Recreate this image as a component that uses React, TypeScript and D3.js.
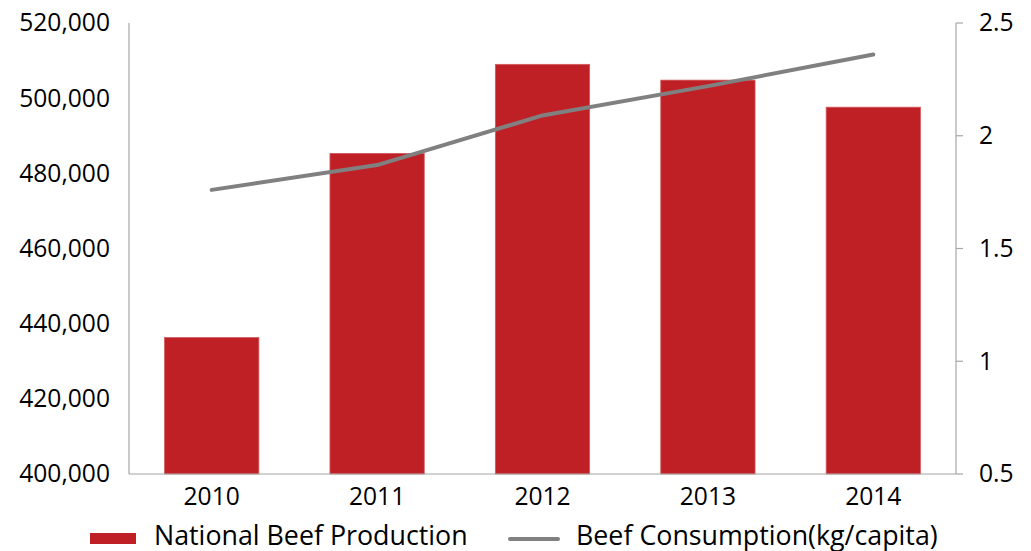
import React from "react";
import * as d3 from "d3";

const years = ["2010", "2011", "2012", "2013", "2014"];
const production = [436300, 485300, 509000, 504800, 497600];
const consumption = [1.76, 1.87, 2.09, 2.22, 2.36];
const leftTicks = [400000, 420000, 440000, 460000, 480000, 500000, 520000];
const rightTicks = [0.5, 1, 1.5, 2, 2.5];
const seriesNames = ["National Beef Production", "Beef Consumption(kg/capita)"];

const W = 1031;
const H = 551;
const M = { left: 129, right: 956, top: 23, bottom: 474 };
const FONT = "'Open Sans', sans-serif";
const RED = "#BF2026";
const GRAY = "#808080";
const AXIS = "#A6A6A6";

export default function App() {
  const x = d3.scaleBand<string>().domain(years).range([M.left, M.right]).paddingInner(0.43).paddingOuter(0.215);
  const yL = d3.scaleLinear().domain([400000, 520000]).range([M.bottom, M.top]);
  const yR = d3.scaleLinear().domain([0.5, 2.5]).range([M.bottom, M.top]);
  const fmt = d3.format(",");
  const cx = (y: string) => (x(y) ?? 0) + x.bandwidth() / 2;
  const line = d3
    .line<number>()
    .x((_, i) => cx(years[i]))
    .y((d) => yR(d));

  return (
    <svg
      width={W}
      height={H}
      style={{ position: "absolute", left: 0, top: 0, background: "#fff" }}
      fontFamily={FONT}
    >
      {production.map((v, i) => (
        <rect
          key={years[i]}
          x={x(years[i])}
          y={yL(v)}
          width={x.bandwidth()}
          height={yL(400000) - yL(v)}
          fill={RED}
          stroke="#D2595D"
          strokeWidth={0.8}
        />
      ))}
      {/* left axis */}
      <line x1={M.left} x2={M.left} y1={M.top} y2={M.bottom} stroke={AXIS} strokeWidth={1.2} />
      {leftTicks.map((t) => (
        <text key={t} x={110} y={yL(t)} dy="0.34em" textAnchor="end" fontSize={24.6} fill="#000">
          {fmt(t)}
        </text>
      ))}
      {/* bottom axis */}
      <line x1={M.left} x2={M.right} y1={M.bottom} y2={M.bottom} stroke={AXIS} strokeWidth={1.2} />
      {years.map((y) => (
        <text key={y} x={cx(y)} y={505} textAnchor="middle" fontSize={24.6} fill="#000">
          {y}
        </text>
      ))}
      {/* right axis */}
      <line x1={M.right} x2={M.right} y1={M.top} y2={M.bottom} stroke={AXIS} strokeWidth={1.2} />
      {rightTicks.map((t) => (
        <g key={t}>
          <line x1={M.right} x2={M.right + 7} y1={yR(t)} y2={yR(t)} stroke={AXIS} strokeWidth={1.2} />
          <text x={979} y={yR(t)} dy="0.34em" textAnchor="start" fontSize={24.6} fill="#000">
            {String(t)}
          </text>
        </g>
      ))}
      {/* line */}
      <path d={line(consumption) ?? ""} fill="none" stroke={GRAY} strokeWidth={4} strokeLinecap="round" strokeLinejoin="round" />
      {/* legend */}
      <rect x={90} y={533} width={46} height={11} fill={RED} />
      <text x={154} y={545} fontSize={26.8} fill="#000">
        {seriesNames[0]}
      </text>
      <line x1={510} x2={558} y1={539} y2={539} stroke={GRAY} strokeWidth={4} strokeLinecap="round" />
      <text x={576} y={545} fontSize={26.8} fill="#000">
        {seriesNames[1]}
      </text>
    </svg>
  );
}
